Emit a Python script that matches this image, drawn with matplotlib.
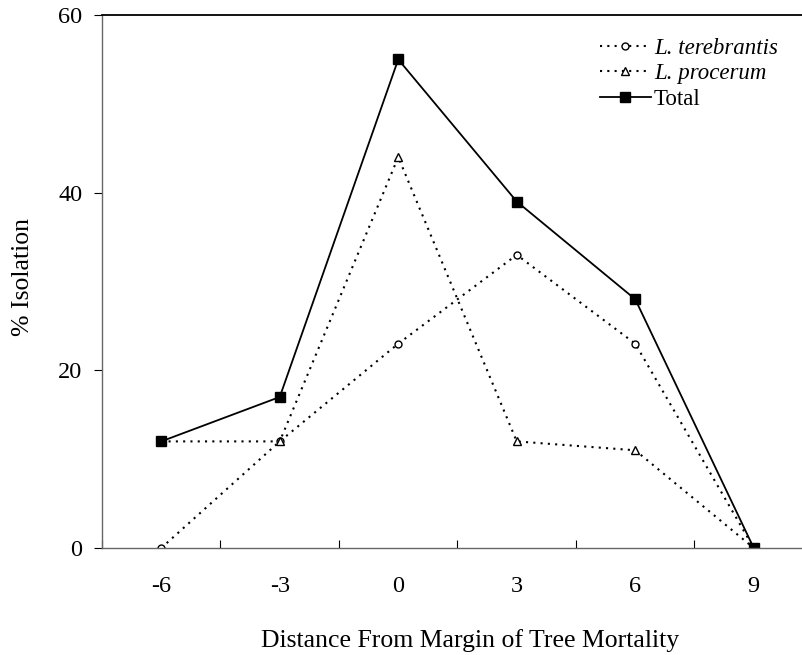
import matplotlib.pyplot as plt

# ---------------------------------------
# Data
# ---------------------------------------

distance = ["-6", "-3", "0", "3", "6", "9"]
terebrantis = [0, 12, 23, 33, 23, 0]
procerum = [12, 12, 44, 12, 11, 0]
total = [12, 17, 55, 39, 28, 0]

plt.rcParams["font.family"] = ["Liberation Serif", "DejaVu Serif"]

fig = plt.figure(figsize=(8.03, 6.55), dpi=100)
# axes runs a bit past the right edge, like the cropped original
ax = fig.add_axes([102 / 803, 107 / 655, 711 / 803, 533 / 655])

x = list(range(len(distance)))

ax.plot(x, terebrantis, linestyle=(0, (1, 2.5)), color="black", lw=1.5,
        marker="o", markersize=5, markerfacecolor="white",
        markeredgecolor="black", markeredgewidth=1.0,
        label="L. terebrantis")
ax.plot(x, procerum, linestyle=(0, (1, 2.5)), color="black", lw=1.5,
        marker="^", markersize=6, markerfacecolor="white",
        markeredgecolor="black", markeredgewidth=1.0,
        label="L. procerum")
ax.plot(x, total, linestyle="-", color="black", lw=1.3,
        marker="s", markersize=7, markerfacecolor="black",
        markeredgecolor="black", label="Total")

ax.set_xlim(-0.5, 5.5)
ax.set_ylim(0, 60)
ax.set_yticks([0, 20, 40, 60])
ax.set_xticks(x)
ax.set_xticklabels(distance)
ax.set_xticks([i + 0.5 for i in range(-1, 6)], minor=True)

ax.tick_params(axis="y", direction="out", length=6, width=0.8,
               labelsize=17.5, colors="black", pad=8)
ax.tick_params(axis="x", which="major", length=0, labelsize=17.5, pad=20)
ax.tick_params(axis="x", which="minor", direction="in", length=6, width=0.8)

for side in ["left", "bottom"]:
    ax.spines[side].set_color("#666666")
    ax.spines[side].set_linewidth(1.0)
ax.spines["top"].set_color("black")
ax.spines["top"].set_linewidth(1.3)
ax.spines["right"].set_visible(False)

ax.set_ylabel("% Isolation", fontsize=18.5)
ax.yaxis.set_label_coords((23 - 102) / 711, (548 - 277) / 533)
ax.set_xlabel("Distance From Margin of Tree Mortality", fontsize=18.5)
ax.xaxis.set_label_coords((470 - 102) / 711, (548 - 641) / 533)
ax.xaxis.label.set_va("center")
ax.yaxis.label.set_va("center")

leg = ax.legend(loc="upper left", bbox_to_anchor=(489 / 711, 0.975),
                frameon=False, fontsize=16.5, handlelength=2.2,
                handletextpad=0.15, labelspacing=0.2, borderaxespad=0)
for t in leg.get_texts()[:2]:
    t.set_fontstyle("italic")

plt.savefig("out.png", dpi=100)
